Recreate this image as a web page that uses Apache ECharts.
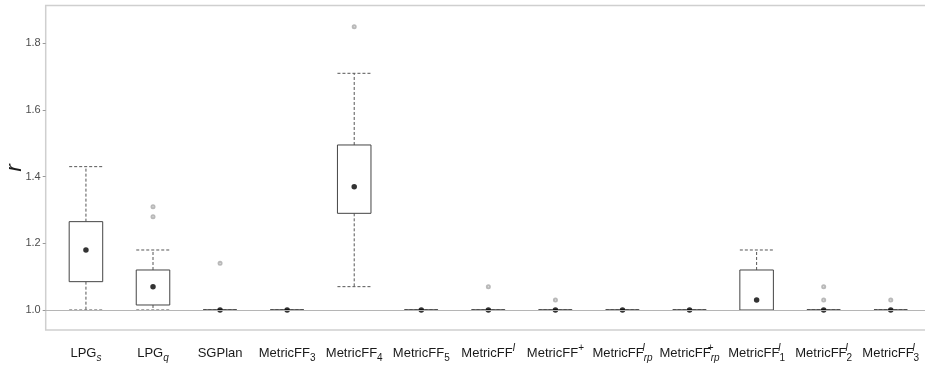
<!DOCTYPE html>
<html>
<head>
<meta charset="utf-8">
<script src="https://cdn.jsdelivr.net/npm/echarts@6/dist/echarts.min.js"></script>
<style>html,body{margin:0;padding:0;background:#fff;}#c{width:925px;height:367px;}</style>
</head>
<body>
<div id="c"></div>
<script>
// ---- data ----
var labelBase = ['LPG','LPG','SGPlan','MetricFF','MetricFF','MetricFF','MetricFF','MetricFF','MetricFF','MetricFF','MetricFF','MetricFF','MetricFF'];
var labelSup  = ['','','','','','','I','+','I','+','I','I','I'];
var labelSub  = ['s','q','','3','4','5','','','rp','rp','1','2','3'];

var lowerWhisker = [1.00, 1.00, 1.00, 1.00, 1.07, 1.00, 1.00, 1.00, 1.00, 1.00, 1.00, 1.00, 1.00];
var q1           = [1.085,1.015,1.00, 1.00, 1.29, 1.00, 1.00, 1.00, 1.00, 1.00, 1.00, 1.00, 1.00];
var q3           = [1.265,1.12, 1.00, 1.00, 1.495,1.00, 1.00, 1.00, 1.00, 1.00, 1.12, 1.00, 1.00];
var upperWhisker = [1.43, 1.18, 1.00, 1.00, 1.71, 1.00, 1.00, 1.00, 1.00, 1.00, 1.18, 1.00, 1.00];
var means        = [1.18, 1.07, 1.00, 1.00, 1.37, 1.00, 1.00, 1.00, 1.00, 1.00, 1.03, 1.00, 1.00];
var outlierCat   = [2, 2, 3, 5, 7, 8, 12, 12, 13];
var outlierVal   = [1.31, 1.28, 1.14, 1.85, 1.07, 1.03, 1.07, 1.03, 1.03];
var yTicks = [1.0, 1.2, 1.4, 1.6, 1.8];
var refValue = 1.0;

// ---- build ----
var catPos = labelBase.map(function(_, i){ return i + 1; });
function isDigit(s){ return /^[0-9]+$/.test(s); }
var labelText = labelBase.map(function(b, i){
  var sup = labelSup[i], sub = labelSub[i], t = b;
  if (sup) {
    var st = (sup === '+') ? 'pp' : 'pi';
    if (sub) st += 'z';
    t += '{' + st + '|' + sup + '}';
  }
  if (sub) t += '{' + (isDigit(sub) ? 'sd' : 'si') + '|' + sub + '}';
  return t;
});

var boxData = catPos.map(function(x, i){ return [x, lowerWhisker[i], q1[i], q3[i], upperWhisker[i]]; });
var meanData = catPos.map(function(x, i){ return [x, means[i]]; });
var outData = outlierCat.map(function(c, i){ return [c, outlierVal[i]]; });

var FONT = '"Liberation Sans", Arial, Helvetica, sans-serif';
var chart = echarts.init(document.getElementById('c'), null, {renderer: 'canvas'});

function renderBox(params, api) {
  var x = api.value(0);
  var lw = api.coord([x, api.value(1)]);
  var b1 = api.coord([x, api.value(2)]);
  var b3 = api.coord([x, api.value(3)]);
  var uw = api.coord([x, api.value(4)]);
  var half = api.size([0.5, 0])[0] / 2;
  var cx = lw[0];
  var dash = {stroke: '#555', lineWidth: 1, lineDash: [3, 2]};
  return {
    type: 'group',
    children: [
      {type: 'line', shape: {x1: cx, y1: b3[1], x2: cx, y2: uw[1]}, style: dash},
      {type: 'line', shape: {x1: cx, y1: b1[1], x2: cx, y2: lw[1]}, style: dash},
      {type: 'line', shape: {x1: cx - half, y1: uw[1], x2: cx + half, y2: uw[1]}, style: dash},
      {type: 'line', shape: {x1: cx - half, y1: lw[1], x2: cx + half, y2: lw[1]}, style: dash},
      {type: 'rect', shape: {x: cx - half, y: b3[1], width: half * 2, height: Math.max(b1[1] - b3[1], 0)},
       style: {fill: '#fff', stroke: '#444', lineWidth: 1}}
    ]
  };
}

var option = {
  animation: false,
  backgroundColor: '#fff',
  grid: {left: 45.7, top: 5.5, width: 885.3, height: 324.5, containLabel: false, outerBoundsMode: 'none',
    show: true, borderColor: '#cfcfcf', borderWidth: 1.5, backgroundColor: 'transparent'},
  xAxis: {
    type: 'value', min: 0.4, max: 13.6,
    axisLine: {show: false}, axisTick: {show: false}, splitLine: {show: false},
    axisLabel: {
      customValues: catPos,
      margin: 13,
      fontFamily: FONT, fontSize: 13, color: '#1a1a1a', lineHeight: 20,
      formatter: function(v){ return labelText[Math.round(v) - 1]; },
      rich: {
        si: {fontFamily: FONT, fontSize: 10, fontStyle: 'italic', color: '#1a1a1a', verticalAlign: 'bottom', lineHeight: 11},
        sd: {fontFamily: FONT, fontSize: 10, color: '#1a1a1a', verticalAlign: 'bottom', lineHeight: 11},
        pi: {fontFamily: FONT, fontSize: 10, fontStyle: 'italic', color: '#1a1a1a', verticalAlign: 'top', lineHeight: 13},
        pp: {fontFamily: FONT, fontSize: 10, color: '#1a1a1a', verticalAlign: 'top', lineHeight: 13},
        piz: {fontFamily: FONT, fontSize: 10, fontStyle: 'italic', color: '#1a1a1a', verticalAlign: 'top', lineHeight: 13, width: 0.01},
        ppz: {fontFamily: FONT, fontSize: 10, color: '#1a1a1a', verticalAlign: 'top', lineHeight: 13, width: 0.01}
      }
    }
  },
  yAxis: {
    type: 'value', min: 0.94, max: 1.9134,
    name: 'r', nameLocation: 'middle', nameRotate: 90, nameGap: 20, nameMoveOverlap: false,
    nameTextStyle: {fontFamily: FONT, fontSize: 22, fontStyle: 'italic', color: '#1a1a1a'},
    axisLine: {show: false},
    splitLine: {show: false},
    axisTick: {show: true, length: 3, customValues: yTicks, lineStyle: {color: '#999'}},
    axisLabel: {customValues: yTicks, margin: 5, fontFamily: FONT, fontSize: 11, color: '#4d4d4d',
      formatter: function(v){ return v.toFixed(1); }}
  },
  series: [
    {
      type: 'line', data: [], silent: true, z: 1,
      markLine: {silent: true, symbol: ['none', 'none'], label: {show: false},
        lineStyle: {color: '#b5b5b5', width: 1, type: 'solid'},
        data: [{yAxis: refValue}]}
    },
    {type: 'custom', renderItem: renderBox, data: boxData, encode: {x: 0, y: [1, 2, 3, 4]}, z: 2, silent: true},
    {type: 'scatter', data: outData, symbol: 'emptyCircle', symbolSize: 3, z: 3, silent: true,
      itemStyle: {color: '#a8a8a8', borderColor: '#a8a8a8', borderWidth: 0.7}},
    {type: 'scatter', data: meanData, symbol: 'circle', symbolSize: 5.5, z: 4, silent: true,
      itemStyle: {color: '#000'}}
  ]
};
chart.setOption(option);
</script>
</body>
</html>
